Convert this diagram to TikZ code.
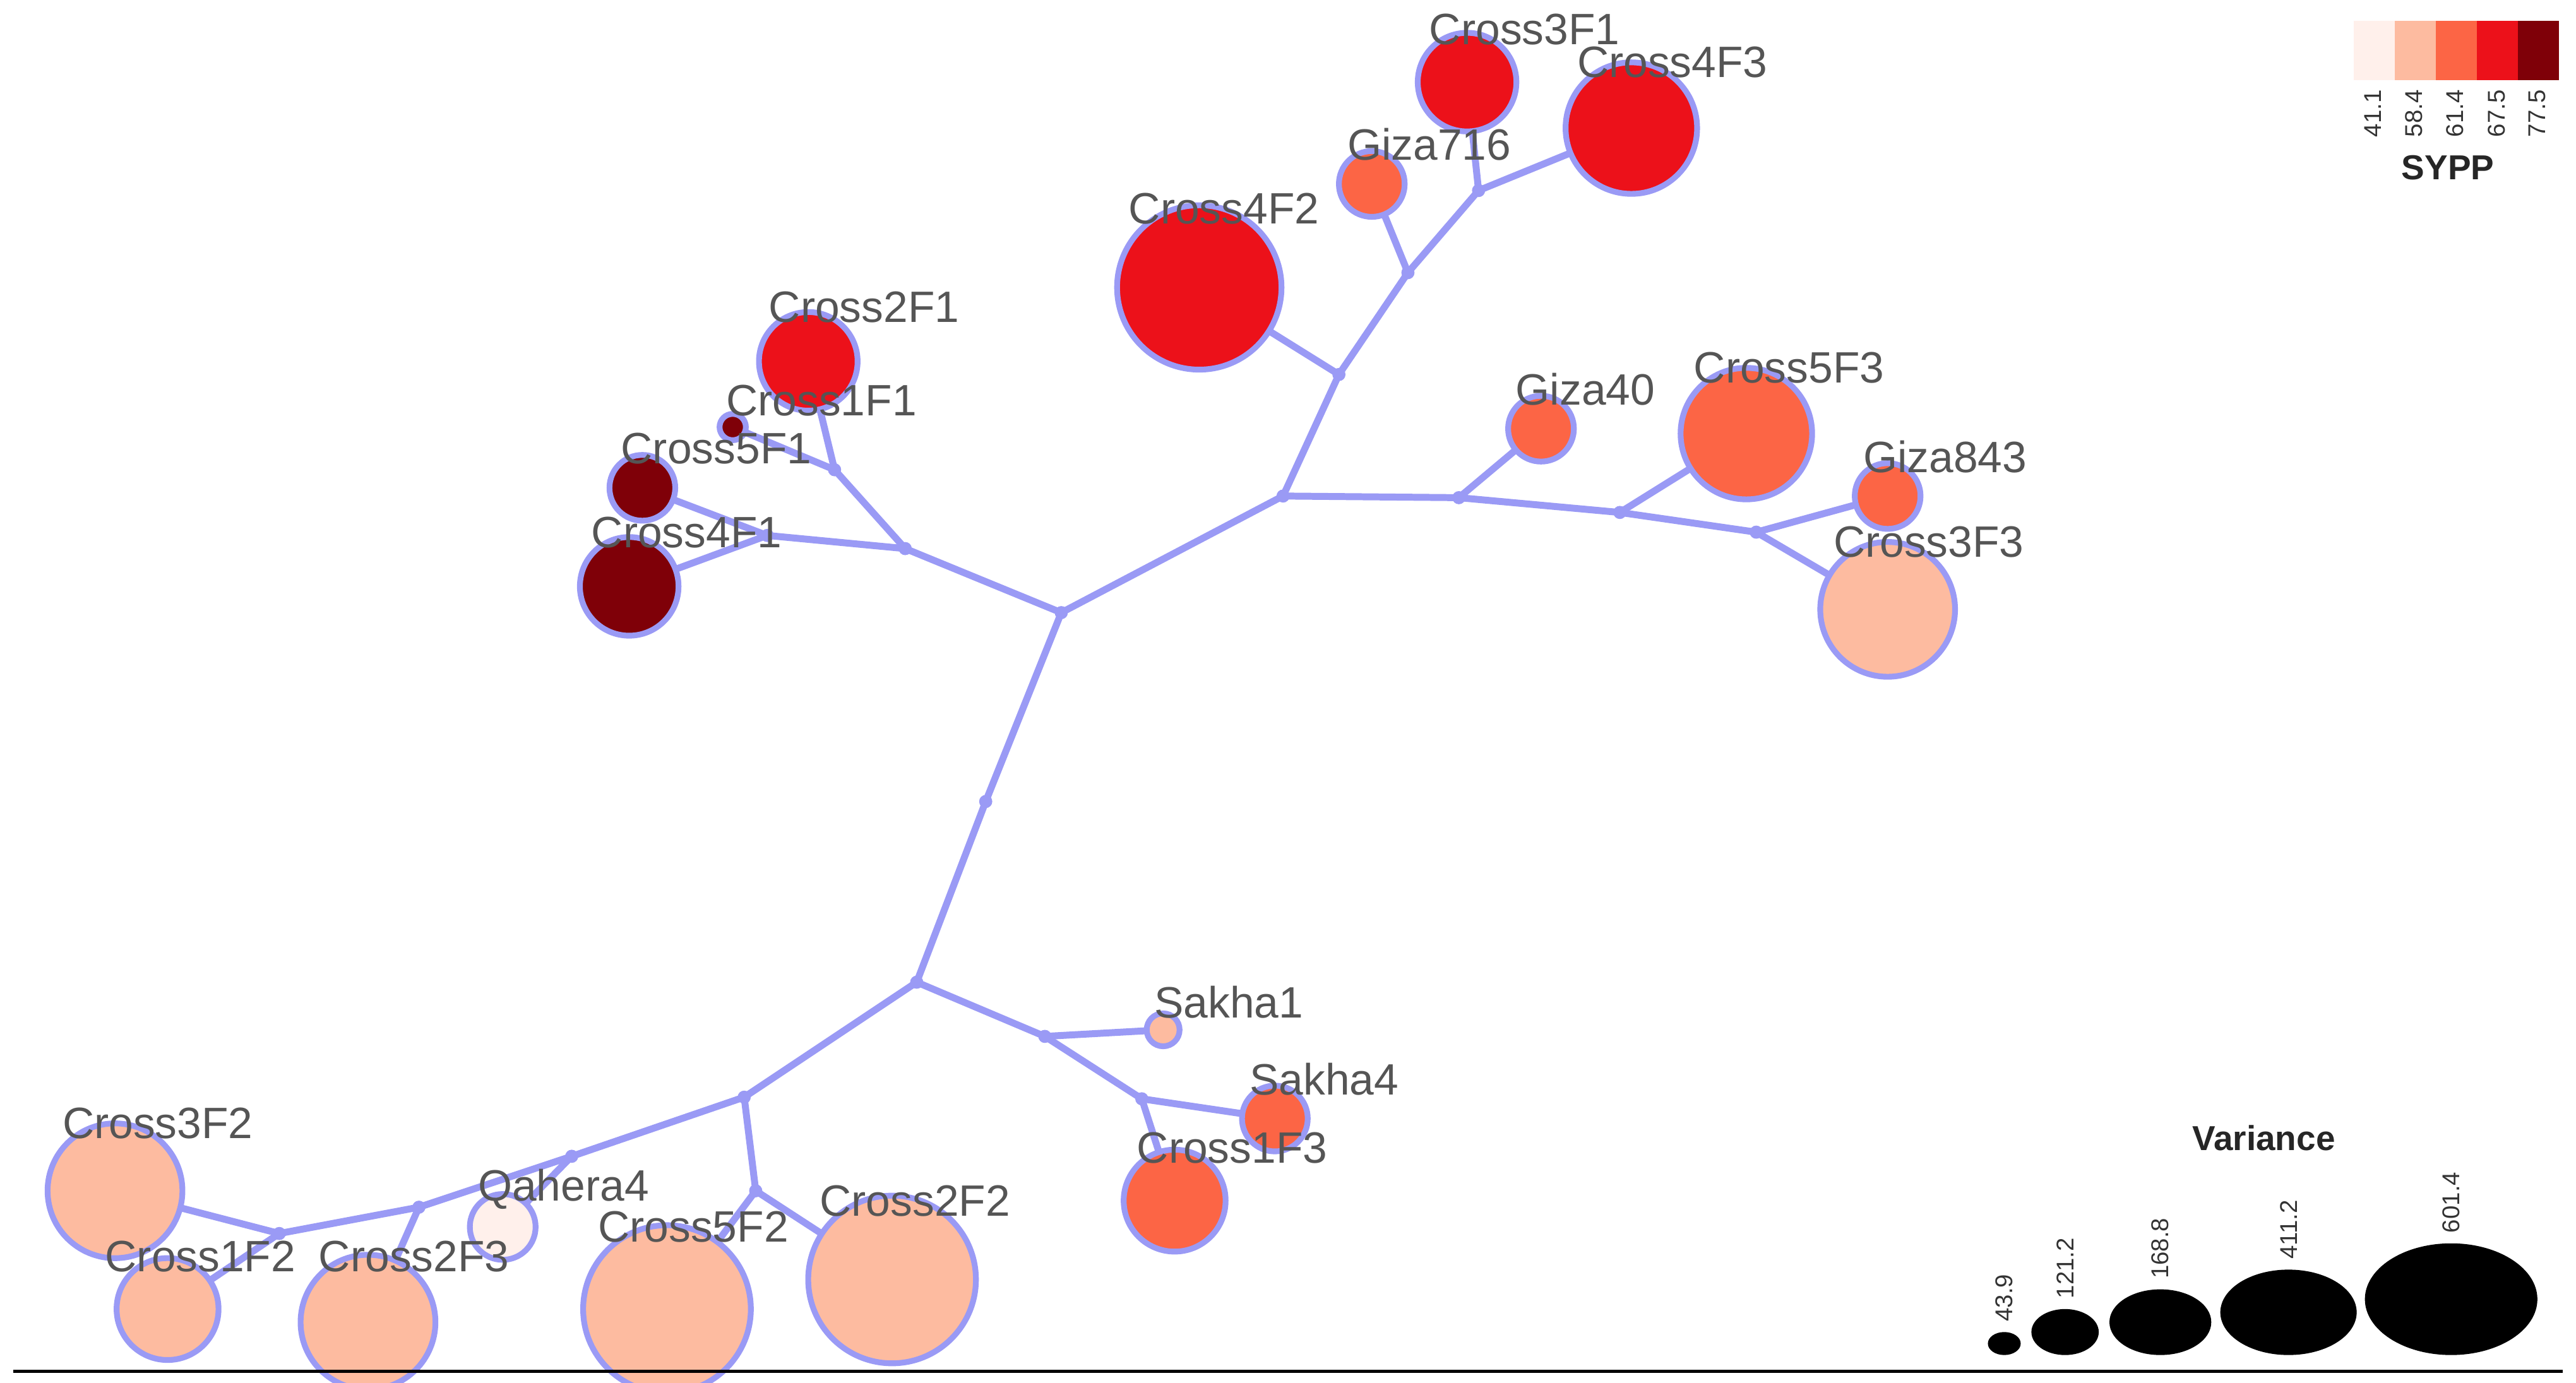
\documentclass[tikz,border=0pt]{standalone}
\usepackage{fontspec}
\setmainfont{Liberation Sans}
\usetikzlibrary{backgrounds,shapes.geometric}
\definecolor{edge}{HTML}{9A9AF5}
\definecolor{cA}{HTML}{FFF0EB}
\definecolor{cB}{HTML}{FDBBA0}
\definecolor{cC}{HTML}{FC6545}
\definecolor{cD}{HTML}{EC111A}
\definecolor{cE}{HTML}{7F0008}
\definecolor{lab}{HTML}{555555}
\tikzset{
 leaf/.style={circle,draw=edge,line width=1.0pt,inner sep=0pt,minimum size=#1*0.02cm},
 jn/.style={circle,fill=edge,inner sep=0pt,minimum size=0.08cm},
 br/.style={draw=edge,line width=1.2pt,line cap=round},
 lb/.style={text=lab,font=\fontsize{7.6}{9}\selectfont,inner sep=0pt},
 vl/.style={font=\fontsize{4.2}{5}\selectfont,rotate=90,anchor=west,inner sep=0pt,text=black!80},
 bx/.style={minimum width=0.25cm,minimum height=0.36cm,inner sep=0pt,anchor=north west}
}
\begin{document}
\begin{tikzpicture}[x=0.01cm,y=-0.01cm]
\useasboundingbox (0,0) rectangle (1568,842);
% junctions
\foreach \n/\p in {a/{646,373},b/{600,488},c/{558,598},d/{781,302},e/{815,228},f/{857,166},g/{900,116},h/{551,334},i/{508,286},j/{467,326},k/{888,303},l/{986,312},m/{1069,324},n/{636,631},o/{695,669},p/{453,668},q/{348,704},r/{460,725},s/{255,735},t/{170,751}}
  \node[jn] (\n) at (\p) {};
% leaves
\node[leaf=30,fill=cD] (C3F1) at (893,50) {};
\node[leaf=40,fill=cD] (C4F3) at (993,78) {};
\node[leaf=20,fill=cC] (G716) at (835,112) {};
\node[leaf=50,fill=cD] (C4F2) at (730,175) {};
\node[leaf=30,fill=cD] (C2F1) at (492,220) {};
\node[leaf=8,fill=cE] (C1F1) at (446,260) {};
\node[leaf=20,fill=cE] (C5F1) at (391,297) {};
\node[leaf=30,fill=cE] (C4F1) at (383,357) {};
\node[leaf=20,fill=cC] (G40) at (938,261) {};
\node[leaf=40,fill=cC] (C5F3) at (1063,264) {};
\node[leaf=20,fill=cC] (G843) at (1149,302) {};
\node[leaf=41,fill=cB] (C3F3) at (1149,371) {};
\node[leaf=10,fill=cB] (S1) at (708,627) {};
\node[leaf=20,fill=cC] (S4) at (776,681) {};
\node[leaf=31,fill=cC] (C1F3) at (715,731) {};
\node[leaf=41,fill=cB] (C3F2) at (70,725) {};
\node[leaf=31,fill=cB] (C1F2) at (102,797) {};
\node[leaf=41,fill=cB] (C2F3) at (224,805) {};
\node[leaf=20,fill=cA] (Q4) at (306,747) {};
\node[leaf=51,fill=cB] (C5F2) at (406,797) {};
\node[leaf=51,fill=cB] (C2F2) at (543,779) {};
\begin{scope}[on background layer]
\foreach \u/\v in {a/b,b/c,a/d,a/h,d/e,e/C4F2,e/f,f/G716,f/g,g/C3F1,g/C4F3,d/k,k/G40,k/l,l/C5F3,l/m,m/G843,m/C3F3,h/i,i/C2F1,i/C1F1,h/j,j/C5F1,j/C4F1,c/n,n/S1,n/o,o/S4,o/C1F3,c/p,p/q,p/r,r/C5F2,r/C2F2,q/s,q/Q4,s/t,s/C2F3,t/C3F2,t/C1F2}
  \draw[br] (\u.center) -- (\v.center);
\end{scope}
% labels
\foreach \n/\p/\t in {l1/{928,18}/Cross3F1,l2/{1018,38}/Cross4F3,l3/{870,88}/Giza716,l4/{745,127}/Cross4F2,l5/{526,187}/Cross2F1,l6/{500,244}/Cross1F1,l7/{436,273}/Cross5F1,l8/{418,324}/Cross4F1,l9/{965,237}/Giza40,l10/{1089,224}/Cross5F3,l11/{1184,278}/Giza843,l12/{1174,330}/Cross3F3,l13/{748,610}/Sakha1,l14/{806,657}/Sakha4,l15/{750,699}/Cross1F3,l16/{96,684}/Cross3F2,l17/{122,765}/Cross1F2,l18/{252,765}/Cross2F3,l19/{343,724}/Qahera4,l20/{422,747}/Cross5F2,l21/{557,731}/Cross2F2}
  \node[lb] (\n) at (\p) {\t};
% colour legend
\foreach \k/\c/\x/\v in {k1/cA/1432/41.1,k2/cB/1457/58.4,k3/cC/1482/61.4,k4/cD/1507/67.5,k5/cE/1532/77.5}{
  \node[bx,fill=\c] (\k) at (\x,12) {};
  \node[vl,anchor=east] (\k t) at (\x+12.5,54) {\v};
}
\node[font=\bfseries\fontsize{6}{7}\selectfont,inner sep=0pt,text=black!85] (sypp) at (1490,102) {SYPP};
% variance legend
\node[font=\bfseries\fontsize{6}{7}\selectfont,inner sep=0pt,text=black!85] (vart) at (1378,693) {Variance};
\foreach \k/\x/\w/\h/\v in {v1/1220/20/14/43.9,v2/1257/41/28/121.2,v3/1315/62/40/168.8,v4/1393/83/52/411.2,v5/1492/105/68/601.4}{
  \node[ellipse,fill=black,inner sep=0pt,minimum width=\w*0.01cm,minimum height=\h*0.01cm] (\k) at (\x,825-\h/2) {};
  \node[vl] (\k t) at ([yshift=0.05cm]\k.north) {\v};
}
\coordinate (bl) at (8,835);
\coordinate (br) at (1560,835);
\draw[line width=0.6pt] (bl) -- (br);
\end{tikzpicture}
\end{document}
